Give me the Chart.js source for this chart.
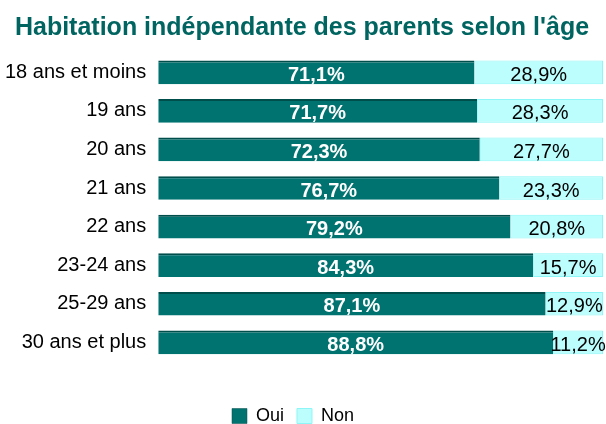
<!DOCTYPE html>
<html>
<head>
<meta charset="utf-8">
<script src="https://cdn.jsdelivr.net/npm/chart.js@4"></script>
<style>
  html, body { margin: 0; padding: 0; background: #fff; }
</style>
</head>
<body>
<canvas id="chart" width="606" height="424"></canvas>
<script>
const ageGroups = ['18 ans et moins', '19 ans', '20 ans', '21 ans', '22 ans', '23-24 ans', '25-29 ans', '30 ans et plus']
const oui = [71.1, 71.7, 72.3, 76.7, 79.2, 84.3, 87.1, 88.8]
const non = [28.9, 28.3, 27.7, 23.3, 20.8, 15.7, 12.9, 11.2]

const FONT = '"Liberation Sans", Arial, sans-serif'
var ctx = document.getElementById('chart')

// percentages written inside each bar
const barLabels = {
  id: 'barLabels',
  afterDatasetsDraw(chart) {
    const c = chart.ctx
    c.save()
    c.textAlign = 'center'
    c.textBaseline = 'middle'
    chart.data.datasets.forEach((ds, i) => {
      const meta = chart.getDatasetMeta(i)
      meta.data.forEach((bar, j) => {
        const txt = ds.data[j].toFixed(1).replace('.', ',') + '%'
        if (i === 0) {
          c.font = 'bold 20px ' + FONT
          c.fillStyle = '#ffffff'
        } else {
          c.font = '20px ' + FONT
          c.fillStyle = '#000000'
        }
        c.fillText(txt, (bar.base + bar.x) / 2, bar.y + 3)
      })
    })
    c.restore()
  }
}

// legend sits a bit left of the canvas centre in the original
const legendShift = {
  id: 'legendShift',
  afterLayout(chart) {
    chart.legend.left -= 9
    chart.legend.right -= 9
  }
}

new Chart(ctx, {
  type: 'bar',
  data: {
    labels: ageGroups,
    datasets: [
      {
        label: 'Oui',
        data: oui,
        backgroundColor: '#007270',
        borderColor: '#004e4c',
        borderWidth: { top: 2, right: 0, bottom: 0, left: 0 },
        borderSkipped: false,
        barPercentage: 0.615,
        categoryPercentage: 1
      },
      {
        label: 'Non',
        data: non,
        backgroundColor: '#bcfdfd',
        borderColor: '#8ef6f6',
        borderWidth: 1,
        borderSkipped: false,
        barPercentage: 0.615,
        categoryPercentage: 1
      }
    ]
  },
  options: {
    indexAxis: 'y',
    responsive: false,
    animation: false,
    layout: {
      padding: { left: 1, right: 3, top: 0, bottom: -11 }
    },
    plugins: {
      title: {
        display: true,
        text: "Habitation indépendante des parents selon l'âge",
        color: '#006561',
        font: { family: FONT, size: 25, weight: 'bold' },
        padding: { top: 13, bottom: 10 }
      },
      legend: {
        position: 'bottom',
        // empty legend title only used as spacer above the items
        title: {
          display: true,
          text: ' ',
          font: { size: 12 },
          padding: 9
        },
        labels: {
          color: '#000',
          boxWidth: 15,
          boxHeight: 15,
          font: { family: FONT, size: 18 },
          padding: 13
        }
      },
      tooltip: { enabled: false }
    },
    scales: {
      x: {
        stacked: true,
        min: 0,
        max: 100,
        display: false
      },
      y: {
        stacked: true,
        grid: { display: false },
        border: { display: false },
        ticks: {
          color: '#000',
          padding: 4,
          font: { family: FONT, size: 20 }
        }
      }
    }
  },
  plugins: [barLabels, legendShift]
})
</script>
</body>
</html>
